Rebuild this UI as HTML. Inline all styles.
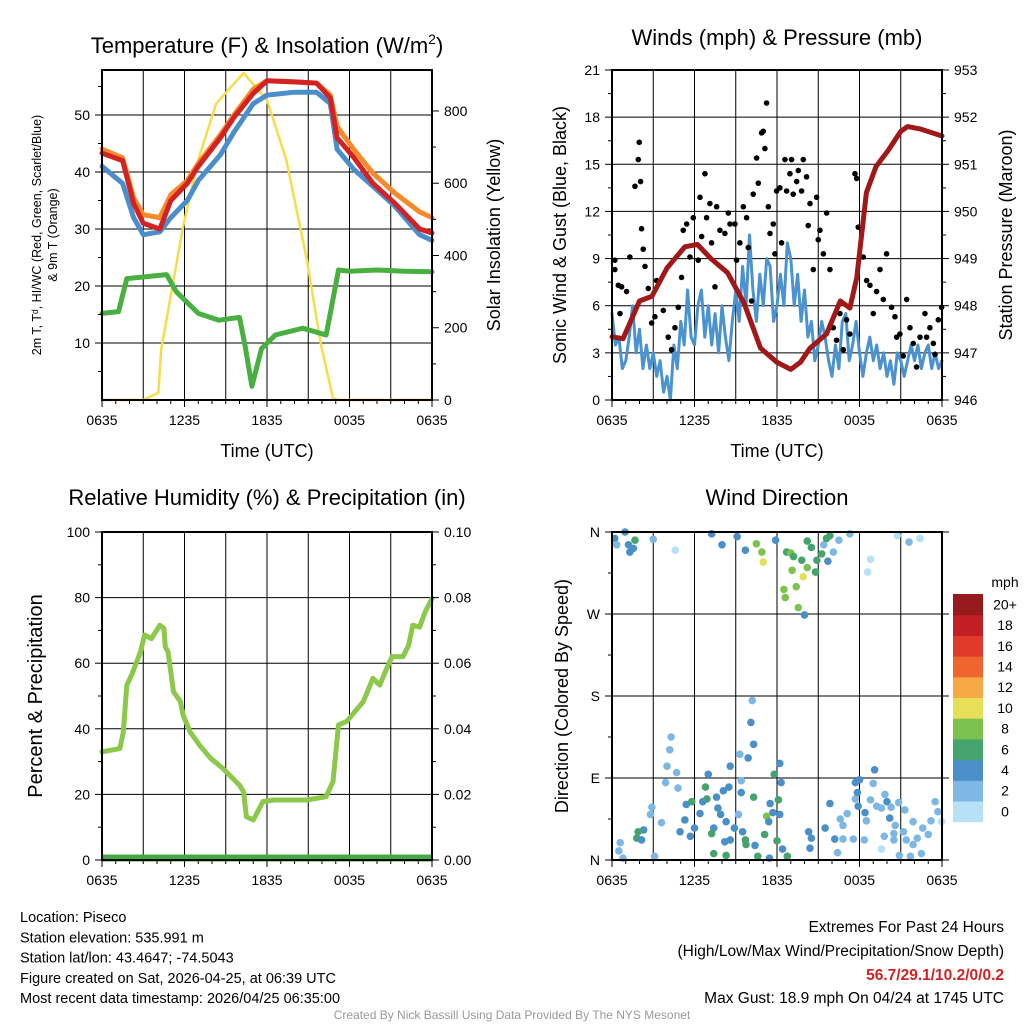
<!DOCTYPE html>
<html><head><meta charset="utf-8"><style>
html,body{margin:0;padding:0;background:#fff}
svg{display:block;font-family:"Liberation Sans",Arial,sans-serif}
</style></head><body>
<svg id="c" width="1024" height="1024" viewBox="0 0 1024 1024" xmlns="http://www.w3.org/2000/svg"></svg>
<script>
// ---------- DATA ----------
const xTickLabels=["0635","1235","1835","0035","0635"];
// Temperature panel (t in hours since 0635)
const tempT=[0,1.5,2.3,3,4.2,5,6.2,7,8.6,9.6,11,12,14,15.6,16.6,17.1,18.3,19.7,21.3,23.1,24];
const tempRed=[43.3,42,34.5,31,30,35,38,41,46,49.6,53.8,56,55.8,55.6,53,46,42.6,38,34.5,30,29.3];
const tempOrange=[44,42.5,35.5,32.5,32,36,38.5,41.5,46.5,50,54.5,56,55.8,55.6,53.5,48,44,39.8,36.3,33,32];
const tempBlue=[41,38,32,29,29.5,32,35,38.5,43,47,52,53.5,54,54,52,44,40.5,37.5,34,29,28];
const dewT=[0,1.2,1.8,4.7,5.4,7,8.5,10,10.4,10.9,11.6,12.6,14.6,16.3,16.6,17.2,18,20,22,24];
const dewVals=[15.2,15.5,21.3,22,19,15.2,14,14.5,9.6,2.4,9,11.4,12.6,11.4,15.2,22.8,22.6,22.8,22.6,22.5];
const solT=[0,3,4.1,4.3,5.9,7,8.3,10.3,12,13.4,14.9,15.9,16.8,17.2,24];
const solVals=[0,0,20,138,480,665,820,905,830,665,388,158,5,0,0];
const tempTicks=[10,20,30,40,50];
const solTicks=[0,200,400,600,800];
// Winds panel
const presT=[0,0.8,2,2.9,4,5.3,6.2,7.2,8.4,9.6,10.8,12,13,13.7,14.4,15.6,16.6,17.3,17.8,18.5,19.2,20.1,21,21.5,22.4,24];
const presVals=[947.34,947.3,948.1,948.2,948.8,949.25,949.3,949,948.7,948.06,947.1,946.8,946.65,946.8,947.1,947.4,948.1,947.95,948.6,950.4,950.95,951.3,951.7,951.8,951.75,951.6];
const windVals=[5.5,3.5,4,2,2.5,4,6,3,4.5,2,3.5,2,3,1.5,2.5,0.5,1.5,0,3.5,2,5,3.5,7,4,3.5,6,7,4,6,3.5,5.5,3,6,4,2.5,5,7,5,8.5,6,10.5,7,5,8,6,9,8.5,5,6,8,6,10,9,6,8,5,7,4,5,2.5,3.5,5,4,2.5,1.5,3.5,2,5,5.5,2.5,3.5,5,3,1.5,3,4,2.5,3.5,2,3,1.5,2.5,1,3,2.5,1.5,2.5,3.5,2.5,3.5,2,3,3.5,2,3,2,2.5];
const gustT=[0.21,0.21,0.46,0.7,0.58,1.06,1.3,1.67,1.91,1.98,2.08,2.15,2.27,2.4,2.64,2.88,3.12,3.24,3.73,4.09,4.33,4.58,4.82,5.06,5.18,5.43,5.67,5.91,6.27,6.52,6.76,6.4,6.88,7.12,7.24,7.49,7.61,7.85,8.21,8.46,8.58,8.94,9.06,9.3,9.55,9.79,9.91,10.15,10.27,10.52,10.64,10.88,11,11.12,11.24,11.37,11.49,11.73,11.85,11.97,12.21,12.33,12.58,12.7,12.94,13.06,13.18,13.43,13.55,13.79,13.91,14.15,14.27,14.4,14.64,14.88,15,15.12,15.37,15.61,15.85,16.09,16.33,16.58,16.82,17.06,17.3,17.67,17.79,17.91,18.27,18.52,18.76,19,19.24,19.49,19.73,19.97,20.33,20.58,20.7,20.94,21.18,21.43,21.67,21.91,22.15,22.4,22.76,22.88,23.12,23.37,23.49,23.73,23.97];
const gustVals=[8.3,8.9,7.3,7.2,5.5,6.9,9.1,13.6,15.3,16.4,13.9,10.9,9.6,8.5,7.1,4.9,5.3,7.6,5.7,4,3.2,4.6,5.9,7.8,10.8,11.2,9.1,11.6,8.9,10.4,14.4,12.9,11.6,12.5,10,7.2,12.3,10.8,10.6,11.9,11.2,11.2,8.9,10,12.3,11.6,9.7,6.3,13.1,15.4,13.8,17,17.1,16,18.9,12.3,10.6,11.2,9.3,13.3,13.5,10,15.3,13.3,14.4,15.3,13.1,13.9,14.6,13.3,15.3,14.2,11.1,12.5,8.3,12.9,10.2,10.8,9.3,11.9,8.3,4.6,3.8,5.5,3.2,5.1,4.2,14.4,14.1,11,9.1,7.6,7.3,5.5,6.9,8.3,6.4,9.3,5.9,5.3,4,4.2,2.8,6.4,4.6,3.6,2.1,4,5.5,4,4.6,3.6,2.9,5.1,5.9];
const windTicks=[0,3,6,9,12,15,18,21];
const presTicks=[946,947,948,949,950,951,952,953];
// RH panel
const rhT=[0,1.3,1.55,1.8,2.2,2.8,3.1,3.6,4.2,4.5,4.6,4.8,5.2,5.7,5.9,6.4,7.1,7.9,8.8,10,10.3,10.5,11,11.7,12.5,13.9,14.9,16.3,16.8,17.2,17.8,18.5,19,19.7,20.2,20.6,21.1,21.9,22.3,22.6,23.1,23.5,24];
const rhVals=[33,34,39,53.3,56.9,63.5,68.6,67.5,71.6,70.6,65,63.5,51.3,48.3,44.2,39.1,35,31,27.9,22.8,20.8,13.2,12.2,17.8,18.3,18.3,18.3,19.3,23.9,41.2,42.3,45.8,48.3,55.4,53.3,57.4,62,62,65.5,71.6,71,75.6,79.7];
const rhTicks=[0,20,40,60,80,100];
const prTicks=["0.00","0.02","0.04","0.06","0.08","0.10"];
// Wind direction points: time (h), direction (deg), speed (mph)
const dirT=[0.2,0.95,1.2,1.3,1.55,1.67,0.34,3,4.6,7.25,8,9.1,9.7,10.5,10.9,11,11.9,12.7,13,13.2,13.1,13.4,12.5,12.6,13.55,14,13.9,14.2,13.8,14.2,14.5,14.8,14.9,15.25,15.4,15.6,15.7,15.85,16.1,16.5,17.3,18.8,18.6,20.75,21.6,22.4,
10.2,10.1,10.3,9.9,9.3,4.3,4.2,4,4.7,3.9,4.8,2.9,2.8,3.6,2.3,1.9,1.8,0.6,0.5,0.8,3.1,2.15,5.4,5.8,5.3,4.95,5.7,6,6.4,6.8,7,6.9,6.6,7.4,7.25,7.6,8.1,8.5,7.7,7.9,8.3,8.2,8.6,7.4,8.3,8.9,9.2,9.4,9.5,9.7,9.75,10.4,10.6,11.45,10.3,9.4,8.6,11.5,11.7,11.25,11.4,11.1,12,12.2,12.1,12.3,11.8,12.2,12.4,12.75,14.3,14.5,14.4,15.5,15.85,16.4,16.2,16.8,17.55,18.35,16.6,17.1,16.8,17.7,17.85,17.7,18,17.9,18.4,18.5,19,19.1,18.8,19.25,19.6,19.85,20,20.2,20.3,20.6,20.5,19.8,19.6,20.5,20.85,21.3,21.2,21.4,21.9,22.2,22.6,23,23.2,23.5,23.7,23.97,22.5,21.7,20.9,21.9];
const dirVals=[353,360,346,338,342,351,346,352,340,358,346,355,340,347,338,327,351,338,337,333,318,300,297,288,277,269,311,321,329,350,343,316,329,336,346,353,328,356,338,351,358,330,316,356,349,353,
175,151,127,112,116,135,121,103,96,85,79,58,50,41,33,31,24,19,10,2,4,22,61,64,44,31,26,35,51,80,94,67,64,35,29,69,76,80,57,50,42,20,22,7,5,35,50,74,31,22,17,16,4,2,69,87,103,62,52,48,42,28,21,50,66,85,94,106,12,4,31,24,13,35,62,8,23,23,23,22,45,51,38,67,74,85,88,59,52,43,84,99,66,59,57,72,64,46,58,38,29,26,12,22,63,55,31,22,42,24,35,28,43,64,53,42,7,4,5,17];
const dirSpd=[5,5,5,5,5,7,3,3,1,5,5,5,5,9,9,10.5,5,7,9,7,9,9,9,9,9,5,10.5,9,7,7,7,7,7,7,3,7,5,7,3,3,3,1,1,1,3,1,
3,5,5,5,3,3,3,3,3,3,3,3,3,3,5,7,7,3,3,3,3,5,5,7,5,5,5,5,5,7,5,7,5,5,7,5,5,5,5,5,5,5,5,7,7,5,3,5,5,7,7,5,7,5,7,3,5,5,5,9,5,7,7,5,7,5,7,5,5,7,5,5,5,5,5,3,5,3,3,3,3,3,3,3,5,5,5,5,5,3,3,5,3,3,3,3,5,5,3,3,3,3,1,3,3,3,3,3,3,3,3,3,3,3,3,1,3,3,3,3,3,3,3];
const barLabels=["0","2","4","6","8","10","12","14","16","18","20+"];
const barColors=["#b6e1f6","#7db8e4","#4a8fc8","#45a46b","#7cc24e","#e6e058","#f6a845","#f06430","#e03a2a","#c21e24","#961a1c"];

// ---------- DRAW ----------
const svg=document.getElementById('c');
const NS="http://www.w3.org/2000/svg";
function el(tag,attrs,parent){const e=document.createElementNS(NS,tag);for(const k in attrs)e.setAttribute(k,attrs[k]);(parent||svg).appendChild(e);return e;}
function txt(x,y,s,size,anchor,parent,extra){const e=el('text',Object.assign({x:x,y:y,'font-size':size,'text-anchor':anchor||'middle',fill:'#000'},extra||{}),parent);e.textContent=s;return e;}
function colorFor(s){if(typeof s!=='number'||isNaN(s))s=3;let i=Math.floor(s/2);if(i<0)i=0;if(i>10)i=10;return barColors[i];}

function panel(name,x0,y0,w,h){
  const g=el('g',{});
  
  
  return {g,x0,y0,w,h,xs:t=>x0+t/24*w};
}
function frame(P,hgrid){
  const g=P.g;
  for(let k=1;k<8;k++){const x=P.xs(k*3);el('line',{x1:x,x2:x,y1:P.y0,y2:P.y0+P.h,stroke:'#000','stroke-width':1},g);}
  hgrid.forEach(y=>{el('line',{x1:P.x0,x2:P.x0+P.w,y1:y,y2:y,stroke:'#000','stroke-width':1},g);});
}
function border(P){el('rect',{x:P.x0,y:P.y0,width:P.w,height:P.h,fill:'none',stroke:'#000','stroke-width':2},P.g);}
function xAxis(P,title){
  const xa=el('g',{},P.g);
  
  
  for(let k=0;k<=24;k++){const x=P.xs(k);const len=(k%6===0)?7:4;el('line',{x1:x,x2:x,y1:P.y0+P.h,y2:P.y0+P.h+len,stroke:'#000'},xa);}
  xTickLabels.forEach((s,i)=>txt(P.xs(i*6),P.y0+P.h+25,s,14,'middle',xa));
  if(title){const t=txt(P.x0+P.w/2,P.y0+P.h+57,title,18,'middle',xa);}
}
function yTicksLeft(P,vals,ys,labels,minorYs){
  const ya=el('g',{},P.g);
  
  
  vals.forEach((v,i)=>{const y=ys(v);el('line',{x1:P.x0-7,x2:P.x0,y1:y,y2:y,stroke:'#000'},ya);txt(P.x0-12,y+5,labels[i],14,'end',ya);});
  (minorYs||[]).forEach(v=>{const y=ys(v);el('line',{x1:P.x0-4,x2:P.x0,y1:y,y2:y,stroke:'#000'},ya);});
}
function yTicksRight(P,vals,ys,labels,minorYs){
  const ya=el('g',{},P.g);
  
  
  vals.forEach((v,i)=>{const y=ys(v);el('line',{x1:P.x0+P.w,x2:P.x0+P.w+7,y1:y,y2:y,stroke:'#000'},ya);txt(P.x0+P.w+12,y+5,labels[i],14,'start',ya);});
  (minorYs||[]).forEach(v=>{const y=ys(v);el('line',{x1:P.x0+P.w,x2:P.x0+P.w+4,y1:y,y2:y,stroke:'#000'},ya);});
}
function line(P,ts,vs,ys,color,wd,name){
  const d=ts.map((t,i)=>(i?'L':'M')+P.xs(t).toFixed(1)+','+ys(vs[i]).toFixed(1)).join('');
  const p=el('path',{d:d,fill:'none',stroke:color,'stroke-width':wd,'stroke-linejoin':'round','stroke-linecap':'round'},P.g);
  
  
  return p;
}
function vtitle(x,y,s,size,name){const t=txt(x,y,s,size,'middle',svg,{transform:`rotate(-90 ${x} ${y})`});return t;}
function title(x,y,s,name){const t=txt(x,y,s,22,'middle');return t;}

// ---- Panel 1: Temperature ----
{
const P=panel('temperature-panel',102,70,330,330);
const yT=v=>400-v*5.7, yS=v=>400-v*0.3613;
frame(P,tempTicks.map(yT));
line(P,solT,solVals,yS,'#f8dc48',2.5,'solar-insolation-line');
line(P,dewT,dewVals,yT,'#48b040',5,'dewpoint-line');
line(P,tempT,tempOrange,yT,'#f58a2a',5,'temp-9m-line');
line(P,tempT,tempBlue,yT,'#4a8fcc',5,'heat-index-windchill-line');
line(P,tempT,tempRed,yT,'#d42222',5,'temp-2m-line');
border(P);
yTicksLeft(P,tempTicks,yT,tempTicks.map(String),[5,15,25,35,45,55]);
yTicksRight(P,solTicks,yS,solTicks.map(String),[100,300,500,700]);
xAxis(P,'Time (UTC)');
const tt=txt(267,53,'Temperature (F) & Insolation (W/m',22);
const ts=document.createElementNS(NS,'tspan');ts.setAttribute('font-size','14');ts.setAttribute('dy','-9');ts.textContent='2';tt.appendChild(ts);
const ts2=document.createElementNS(NS,'tspan');ts2.setAttribute('dy','9');ts2.textContent=')';tt.appendChild(ts2);
vtitle(41,235,'2m T, T\u1D48, HI/WC (Red, Green, Scarlet/Blue)',12.5,'temperature-y-axis-title');
vtitle(57,235,'& 9m T (Orange)',12.5,'temperature-y-axis-title-2');
vtitle(500,235,'Solar Insolation (Yellow)',18,'solar-y-axis-title');
}
// ---- Panel 2: Winds ----
{
const P=panel('winds-panel',612,70,330,330);
const yW=v=>400-v*330/21, yP=v=>400-(v-946)*330/7;
frame(P,[3,6,9,12,15,18].map(yW));
const stepW=24/(windVals.length-1);
line(P,windVals.map((v,i)=>i*stepW),windVals,yW,'#4a93d0',3,'sonic-wind-line');
gustVals.forEach((v,i)=>{const c=el('circle',{cx:P.xs(gustT[i]),cy:yW(v),r:2.8,fill:'#000'},P.g);});
line(P,presT,presVals,yP,'#a01818',5,'pressure-line');
border(P);
yTicksLeft(P,windTicks,yW,windTicks.map(String),[1.5,4.5,7.5,10.5,13.5,16.5,19.5]);
yTicksRight(P,presTicks,yP,presTicks.map(String),[946.5,947.5,948.5,949.5,950.5,951.5,952.5]);
xAxis(P,'Time (UTC)');
title(777,45,'Winds (mph) & Pressure (mb)','winds-title');
vtitle(566,235,'Sonic Wind & Gust (Blue, Black)',18,'wind-y-axis-title');
vtitle(1012,235,'Station Pressure (Maroon)',18,'pressure-y-axis-title');
}
// ---- Panel 3: RH ----
{
const P=panel('humidity-panel',102,532,330,328);
const yR=v=>860-v*3.28;
frame(P,[20,40,60,80].map(yR));
line(P,rhT,rhVals,yR,'#8cc84a',5,'relative-humidity-line');
const pl=el('line',{x1:P.x0,x2:P.x0+P.w,y1:858,y2:858,stroke:'#48a848','stroke-width':7},P.g);


border(P);
yTicksLeft(P,rhTicks,yR,rhTicks.map(String),[10,30,50,70,90]);
yTicksRight(P,rhTicks,yR,prTicks,[10,30,50,70,90]);
xAxis(P,null);
title(267,505,'Relative Humidity (%) & Precipitation (in)','humidity-title');
vtitle(42,696,'Percent & Precipitation',20,'humidity-y-axis-title');
}
// ---- Panel 4: Wind Direction ----
{
const P=panel('wind-direction-panel',612,532,330,328);
const yD=v=>860-v/360*328;
frame(P,[90,180,270].map(yD));
dirT.forEach((t,i)=>{const c=el('circle',{cx:P.xs(t),cy:yD(dirVals[i]),r:3.8,fill:colorFor(dirSpd[i])},P.g);});
border(P);
yTicksLeft(P,[0,90,180,270,360],yD,['N','E','S','W','N'],[45,135,225,315]);
yTicksRight(P,[0,90,180,270,360],yD,['','','','',''],[]);
xAxis(P,null);
title(777,505,'Wind Direction','wind-direction-title');
vtitle(568,696,'Direction (Colored By Speed)',18,'direction-y-axis-title');
const cb=el('g',{});


const bh=20.7, top=594;
barColors.forEach((c,i)=>{const y=top+(10-i)*bh;el('rect',{x:953,y:y,width:30,height:bh+0.5,fill:c},cb);txt(1005,y+bh/2+5,barLabels[i],14,'middle',cb);});
txt(1005,587,'mph',14,'middle',cb);
}
// ---- Footer text ----
const info=["Location: Piseco","Station elevation: 535.991 m","Station lat/lon: 43.4647; -74.5043","Figure created on Sat, 2026-04-25, at 06:39 UTC","Most recent data timestamp: 2026/04/25 06:35:00"];
info.forEach((s,i)=>{const t=txt(20,922+i*20.3,s,14.5,'start');});
[["Extremes For Past 24 Hours",932,'#000','normal'],["(High/Low/Max Wind/Precipitation/Snow Depth)",956,'#000','normal'],["56.7/29.1/10.2/0/0.2",980,'#d42222','bold'],["Max Gust: 18.9 mph On 04/24 at 1745 UTC",1003,'#000','normal']].forEach(a=>{const t=txt(1004,a[1],a[0],15.5,'end',svg,{fill:a[2],'font-weight':a[3]});});
const cr=txt(512,1019,'Created By Nick Bassill Using Data Provided By The NYS Mesonet',12,'middle',svg,{fill:'#999'});


</script>
</body></html>
